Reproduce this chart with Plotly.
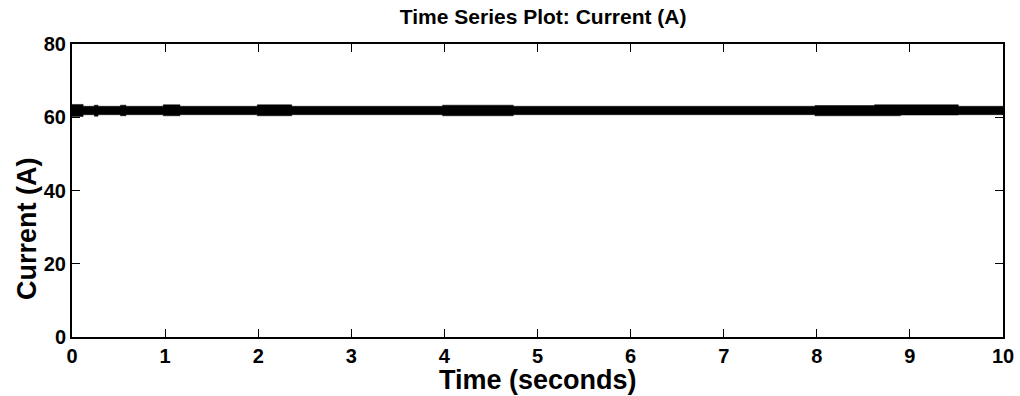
import plotly.graph_objects as go

# Envelope of the dense current signal (step segments)
seg_start_s = [0.00, 0.12, 0.24, 0.28, 0.52, 0.58, 0.98, 1.16, 1.99, 2.36,
               3.98, 4.74, 7.98, 8.62, 8.90, 9.52, 10.00]
upper_a = [63.5, 63.0, 63.3, 63.0, 63.3, 63.0, 63.4, 63.0, 63.4, 63.0,
           63.3, 63.0, 63.2, 63.4, 63.4, 63.0, 63.0]
lower_a = [60.2, 60.7, 60.3, 60.7, 60.4, 60.7, 60.4, 60.7, 60.4, 60.7,
           60.4, 60.7, 60.4, 60.4, 60.6, 60.7, 60.7]

x_ticks = [0, 1, 2, 3, 4, 5, 6, 7, 8, 9, 10]
y_ticks = [0, 20, 40, 60, 80]

FONT = "Liberation Sans, Arial, sans-serif"

fig = go.Figure()
fig.add_trace(go.Scatter(x=seg_start_s, y=lower_a, mode="lines",
                         line=dict(color="black", width=0.5, shape="hv"),
                         showlegend=False, hoverinfo="skip"))
fig.add_trace(go.Scatter(x=seg_start_s, y=upper_a, mode="lines",
                         line=dict(color="black", width=0.5, shape="hv"),
                         fill="tonexty", fillcolor="black",
                         showlegend=False, name="Current (A)"))

axis_common = dict(showline=True, linecolor="black", linewidth=2,
                   mirror="ticks", ticks="inside", ticklen=8, tickwidth=1,
                   tickcolor="black", showgrid=False, zeroline=False,
                   automargin=False,
                   tickfont=dict(family=FONT, size=20, color="black", weight="bold"))

fig.update_layout(
    width=1020, height=396,
    margin=dict(l=72, r=17, t=44, b=59),
    paper_bgcolor="white", plot_bgcolor="white",
    title=dict(text="<b>Time Series Plot: Current (A)</b>", x=0.5325, xanchor="center",
               y=1 - 17 / 396, yanchor="middle",
               font=dict(family=FONT, size=21, color="black")),
    xaxis=dict(range=[0, 10], tickvals=x_ticks, **axis_common),
    yaxis=dict(range=[0, 80], tickvals=y_ticks, **axis_common),
    annotations=[
        dict(text="<b>Time (seconds)</b>", xref="paper", yref="paper",
             x=(538 - 72) / 931, y=-(380 - 337) / 293, xanchor="center",
             yanchor="middle", showarrow=False,
             font=dict(family=FONT, size=27, color="black")),
        dict(text="<b>Current (A)</b>", xref="paper", yref="paper",
             x=-(72 - 27) / 931, y=(337 - 229) / 293, xanchor="center",
             yanchor="middle", showarrow=False, textangle=-90,
             font=dict(family=FONT, size=27, color="black")),
    ],
)

fig.write_html("out.html", config={"displayModeBar": False},
               post_script="document.body.style.margin='0';document.body.style.overflow='hidden';")
